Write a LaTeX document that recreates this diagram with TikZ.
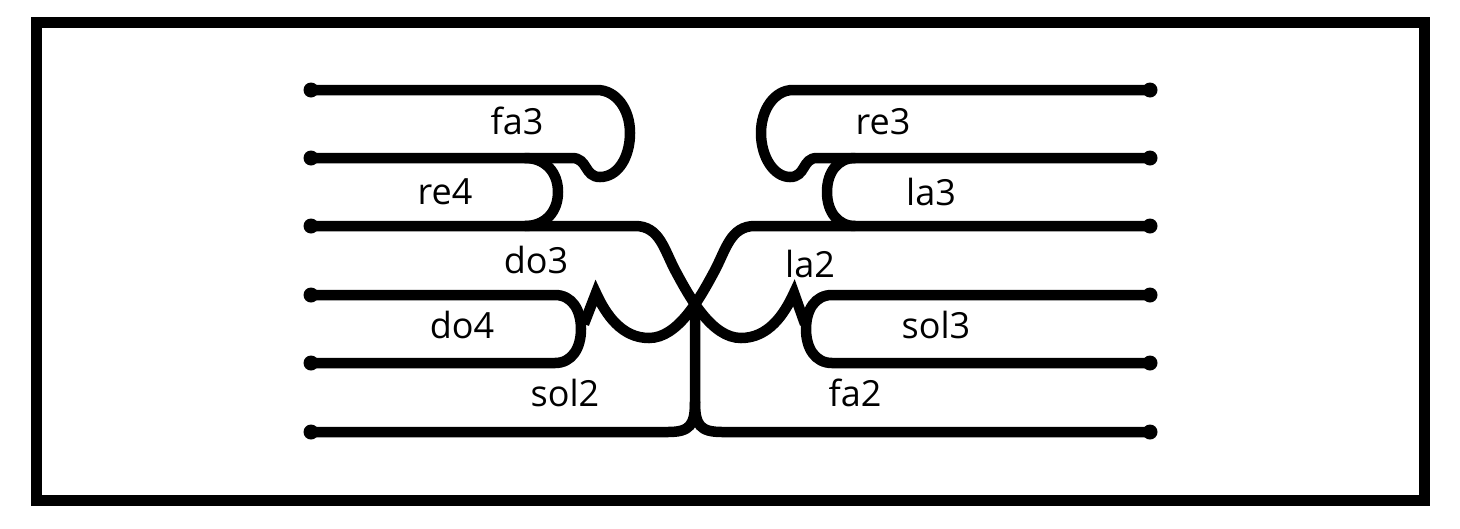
\documentclass[tikz,border=0pt]{standalone}
\usepackage{fontspec}
\setmainfont{Open Sans}
\begin{document}
\begin{tikzpicture}[x=1pt,y=-1pt,
  wire/.style={line width=10.5pt,line cap=round},
  frame/.style={line width=11pt},
  enddot/.style={circle,fill=black,inner sep=0pt,minimum size=15pt},
  lab/.style={anchor=base,inner sep=0pt,font=\fontsize{36}{40}\selectfont}]
\useasboundingbox (0,0) rectangle (1460,528);
\draw[frame] (36.5,22.5) rectangle (1424,500.5);
% end dots
\foreach \r/\y in {1/90,2/158,3/226,4/295,5/363,6/432}{
  \node[enddot] (L\r) at (311,\y) {};
  \node[enddot] (R\r) at (1150,\y) {};
}
% junction coordinates
\coordinate (X) at (695,300);
\coordinate (cuspL) at (596,293);
\coordinate (cuspR) at (794,293);
% fa3 loop (rows 1 and 2, left)
\draw[wire] (L2.center) -- (572,158) .. controls (588,158) and (584,177) .. (600,177)
  .. controls (618,177) and (630,157) .. (630,133)
  .. controls (630,109) and (616,90) .. (597,90) -- (L1.center);
% re4 loop
\draw[wire] (525,158) .. controls (545,158) and (558,172) .. (558,192)
  .. controls (558,212) and (545,226) .. (525,226);
% re3 loop (rows 1 and 2, right)
\draw[wire] (R1.center) -- (793,90) .. controls (775,90) and (761,109) .. (761,133)
  .. controls (761,157) and (774,177) .. (790,177)
  .. controls (806,177) and (802,158) .. (817,158) -- (R2.center);
% la3 loop
\draw[wire] (855,158) .. controls (838,158) and (827,172) .. (827,192)
  .. controls (827,212) and (838,226) .. (855,226);
% do4 loop
\draw[wire] (L4.center) -- (555,295) .. controls (572,295) and (581,310) .. (581,329)
  .. controls (581,348) and (572,363) .. (555,363) -- (L5.center);
% sol3 loop
\draw[wire] (R4.center) -- (832,295) .. controls (815,295) and (806,310) .. (806,329)
  .. controls (806,348) and (815,363) .. (832,363) -- (R5.center);
% do3 strand: left row 3 through crossing to right cusp
\draw[wire,line cap=butt] (L3.center) -- (635,226) .. controls (660,226) and (664,250) .. (676,272)
  .. controls (690,298) and (712,338) .. (741,338)
  .. controls (768,338) and (784,315) .. (cuspR) -- (805,324);
% la2 strand: right row 3 through crossing to left cusp
\draw[wire,line cap=butt] (R3.center) -- (755,226) .. controls (730,226) and (726,250) .. (714,272)
  .. controls (700,298) and (678,338) .. (649,338)
  .. controls (622,338) and (606,315) .. (cuspL) -- (584,324);
% central stem
\draw[wire] (L6.center) -- (668,432) .. controls (690,432) and (695,425) .. (695,402) -- (X);
\draw[wire] (R6.center) -- (722,432) .. controls (700,432) and (695,425) .. (695,402);
% labels
\node[lab] (fa3) at (517,134) {fa3};
\node[lab] (re4) at (445,204) {re4};
\node[lab] (re3) at (883,134) {re3};
\node[lab] (la3) at (931,205) {la3};
\node[lab] (do3) at (536,273) {do3};
\node[lab] (la2) at (810,277) {la2};
\node[lab] (do4) at (462,338) {do4};
\node[lab] (sol3) at (936,338) {sol3};
\node[lab] (sol2) at (565,406) {sol2};
\node[lab] (fa2) at (855,406) {fa2};
\end{tikzpicture}
\end{document}
